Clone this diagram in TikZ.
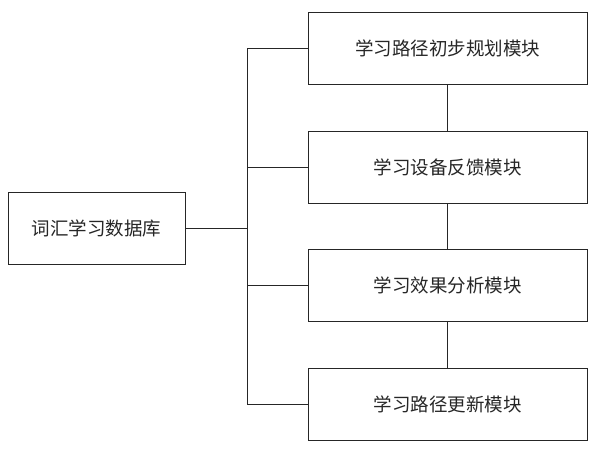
\documentclass[tikz,border=0pt]{standalone}
\usepackage{fontspec}
\newfontfamily\cjk{Noto Sans CJK SC}
\begin{document}
\begin{tikzpicture}[x=1pt,y=-1pt,
  box/.style={draw=black!85,line width=0.9pt,minimum height=72pt,inner sep=0pt,font=\cjk\fontsize{18.5}{22}\selectfont,text=black!85},
  ln/.style={draw=black!85,line width=0.9pt}]
\useasboundingbox (0,0) rectangle (600,449);
\node[box,minimum width=177pt] (db) at (96.5,228) {词汇学习数据库};
\node[box,minimum width=279pt] (m1) at (447.5,48) {学习路径初步规划模块};
\node[box,minimum width=279pt] (m2) at (447.5,167) {学习设备反馈模块};
\node[box,minimum width=279pt] (m3) at (447.5,285) {学习效果分析模块};
\node[box,minimum width=279pt] (m4) at (447.5,404) {学习路径更新模块};
\coordinate (bt) at (247,48);
\coordinate (bb) at (247,404);
\coordinate (bm) at (247,228);
\draw[ln] (db.east) -- (bm);
\draw[ln] (m1.west) -- (bt) -- (bb) -- (m4.west);
\draw[ln] (m2.west) -- (m2.west -| bt);
\draw[ln] (m3.west) -- (m3.west -| bt);
\draw[ln] (m1) -- (m2);
\draw[ln] (m2) -- (m3);
\draw[ln] (m3) -- (m4);
\end{tikzpicture}
\end{document}
